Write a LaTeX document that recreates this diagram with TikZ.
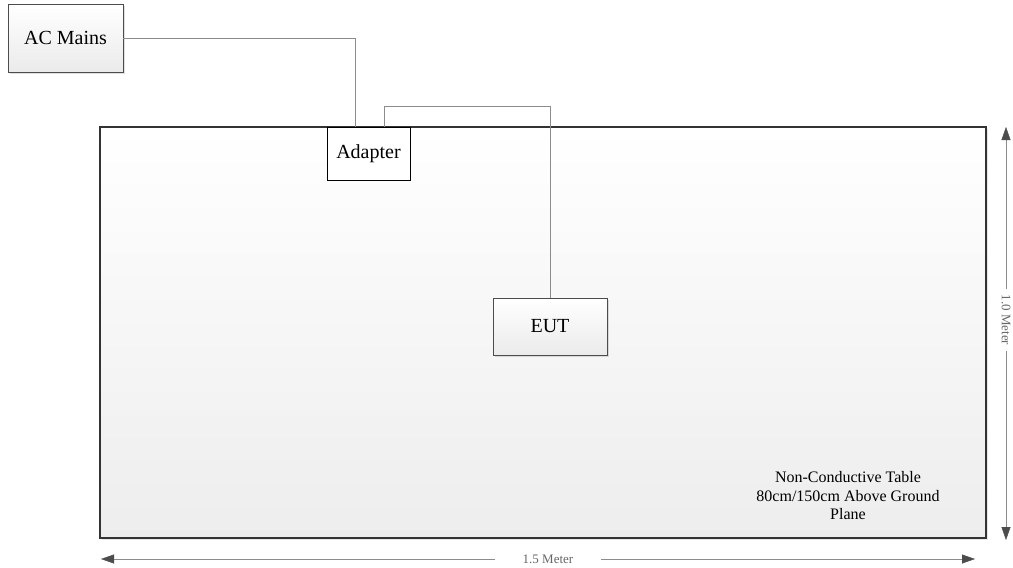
\documentclass[tikz,border=0pt]{standalone}
\usepackage{fontspec}
\setmainfont{Liberation Serif}
\usetikzlibrary{arrows.meta, positioning, shadows}

\begin{document}
\begin{tikzpicture}[x=1pt, y=-1pt,
    box/.style={draw=black!70, thin, top color=white, bottom color=black!8,
      drop shadow={opacity=0.25, shadow xshift=1.5pt, shadow yshift=-1.5pt},
      font=\fontsize{20}{23}\selectfont},
    wire/.style={draw=black!45, thin},
    dim/.style={draw=black!45, thin, -{Triangle[length=13pt, width=9pt, black!70]}},
    dimlabel/.style={fill=white, text=black!60, inner sep=6pt, font=\fontsize{13}{14}\selectfont}]
  \useasboundingbox (0,0) rectangle (1013,568);
  % table
  \node[draw=black!80, line width=1.8pt, top color=white, bottom color=black!7,
    minimum width=886pt, minimum height=411pt,
    drop shadow={opacity=0.2, shadow xshift=2pt, shadow yshift=-2pt}] (table) at (543,332.5) {};
  \node[align=center, font=\fontsize{16}{18.5}\selectfont] (tabletext) at (848,496)
    {Non-Conductive Table\\80cm/150cm Above Ground\\Plane};
  % devices
  \node[box, minimum width=115pt, minimum height=68pt] (mains) at (65.5,38) {AC Mains};
  \node[draw=black, line width=1pt, fill=white, minimum width=83pt, minimum height=53pt,
    font=\fontsize{20}{22}\selectfont] (adapter) at (368.5,153.5) {Adapter};
  \node[box, minimum width=114pt, minimum height=57pt] (eut) at (550,326.5) {EUT};
  % cables
  \draw[wire] (mains.east) -| ([xshift=-13.5pt]adapter.north);
  \draw[wire] ([xshift=15.5pt]adapter.north) -- ++(0,-20) -| (eut.north);
  % dimensions
  \node[dimlabel, rotate=-90] (height) at (1006,320) {1.0 Meter};
  \coordinate (htop) at (1006,127);
  \coordinate (hbot) at (1006,540);
  \draw[dim] (height.west) -- (htop);
  \draw[dim] (height.east) -- (hbot);
  \node[dimlabel, inner xsep=28pt] (width) at (548,559) {1.5 Meter};
  \coordinate (wleft) at (101,559);
  \coordinate (wright) at (975,559);
  \draw[dim] (width.west) -- (wleft);
  \draw[dim] (width.east) -- (wright);
\end{tikzpicture}
\end{document}
